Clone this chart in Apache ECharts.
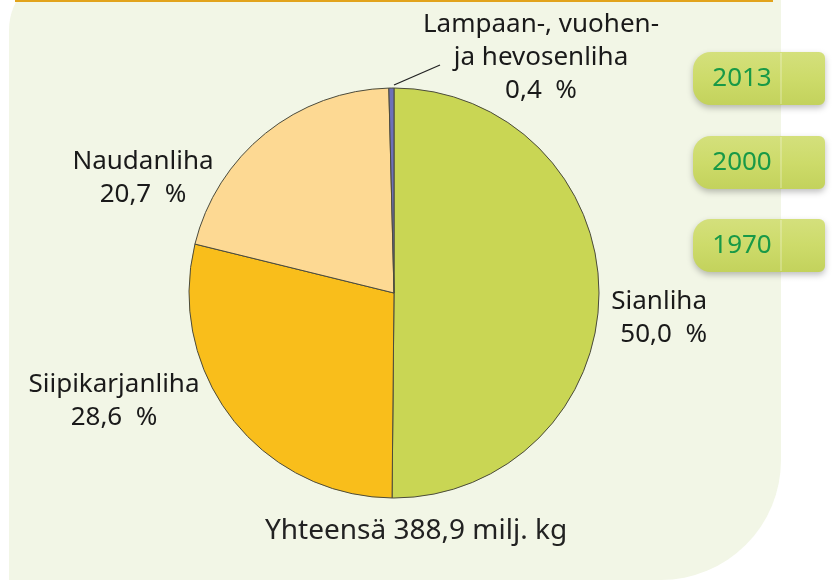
<!DOCTYPE html>
<html>
<head>
<meta charset="utf-8">
<script src="https://cdn.jsdelivr.net/npm/echarts@6/dist/echarts.min.js"></script>
<style>
  html, body { margin: 0; padding: 0; background: #ffffff; }
  #lihachart { width: 832px; height: 580px; }
</style>
</head>
<body>
<div id="lihachart"></div>
<script>
// lihan tuotanto 2013, osuudet
var categories = ['Sianliha', 'Siipikarjanliha', 'Naudanliha', 'Lampaan-, vuohen-\nja hevosenliha'];
var shares = [50.0, 28.6, 20.7, 0.4];
var years = ['2013', '2000', '1970'];
var totalText = 'Yhteensä 388,9 milj. kg';

var sliceColors = ['#c9d654', '#f9be1b', '#fdd993', '#6d70b8'];
// label spots, same order as categories
var labelSpots = [
    {x: 707, y: 318, align: 'right'},
    {x: 114, y: 401, align: 'center'},
    {x: 143, y: 178, align: 'center'},
    {x: 541, y: 58, align: 'center'}
];

var myChart = echarts.init(document.getElementById('lihachart'));

var pieData = categories.map(function (name, i) {
    return {name: name, value: shares[i], itemStyle: {color: sliceColors[i]}};
});

var buttons = [];
var btnTops = [52, 136, 219];
years.forEach(function (y, i) {
    buttons.push({
        type: 'rect',
        shape: {x: 693, y: btnTops[i], width: 132, height: 53, r: [18, 6, 6, 18]},
        style: {
            fill: new echarts.graphic.LinearGradient(0, 0, 0, 1, [
                {offset: 0, color: '#d4e07c'},
                {offset: 0.5, color: '#cddb6a'},
                {offset: 1, color: '#c3d25c'}
            ]),
            shadowBlur: 6,
            shadowOffsetY: 3,
            shadowColor: 'rgba(0,0,0,0.25)'
        },
        z: 10
    });
    buttons.push({
        type: 'line',
        shape: {x1: 781, y1: btnTops[i] + 1, x2: 781, y2: btnTops[i] + 52},
        style: {stroke: 'rgba(255,255,255,0.45)', lineWidth: 1},
        z: 11
    });
    buttons.push({
        type: 'text',
        x: 742,
        y: btnTops[i] + 27,
        style: {
            text: y,
            fill: '#189947',
            font: '26px "Noto Sans"',
            textAlign: 'center',
            textVerticalAlign: 'middle'
        },
        z: 12
    });
});

myChart.setOption({
    backgroundColor: '#ffffff',
    animation: false,
    title: {
        text: totalText,
        left: 'center',
        top: 512,
        textStyle: {
            fontFamily: 'Noto Sans',
            fontSize: 28,
            fontWeight: 'normal',
            color: '#222222'
        }
    },
    graphic: [
        {
            type: 'rect',
            shape: {x: 9, y: -30, width: 772, height: 610, r: [60, 0, 120, 0]},
            style: {fill: '#f2f6e6'},
            z: -10
        },
        {
            type: 'rect',
            shape: {x: 15, y: 0, width: 758, height: 2},
            style: {fill: '#e2a31c'},
            z: -9
        },
        {
            type: 'line',
            shape: {x1: 394, y1: 85, x2: 440, y2: 65},
            style: {stroke: '#222222', lineWidth: 1.3},
            z: 5
        }
    ].concat(buttons),
    series: [
        {
            type: 'pie',
            center: [394, 293],
            radius: 205,
            startAngle: 90,
            clockwise: true,
            data: pieData,
            itemStyle: {
                borderColor: '#4b4b3c',
                borderWidth: 1
            },
            label: {
                show: true,
                position: 'outside',
                fontFamily: 'Noto Sans',
                fontSize: 26,
                lineHeight: 33,
                color: '#1a1a1a',
                formatter: function (p) {
                    return p.name + '\n' + p.value.toFixed(1).replace('.', ',') + '  %';
                }
            },
            labelLine: {show: false},
            labelLayout: function (params) {
                var s = labelSpots[params.dataIndex];
                return {x: s.x, y: s.y, align: s.align, verticalAlign: 'middle'};
            },
            emphasis: {disabled: true}
        }
    ]
});
</script>
</body>
</html>
